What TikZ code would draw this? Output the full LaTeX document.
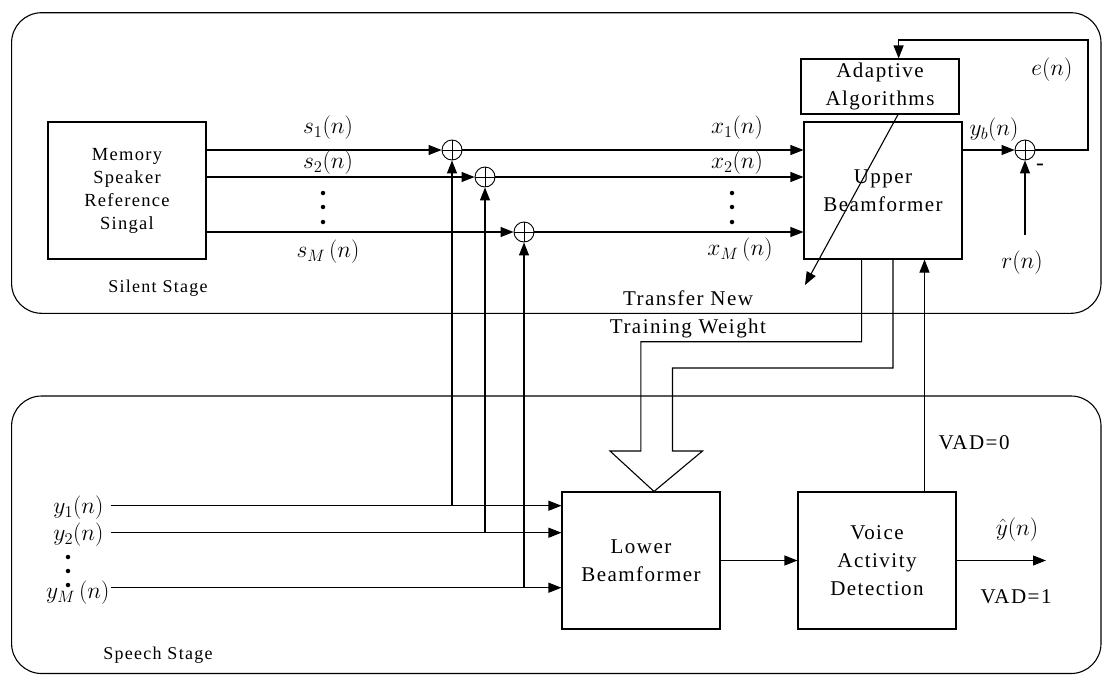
\documentclass[tikz,border=0pt]{standalone}
\usepackage{fix-cm}
\usepackage{amsmath}
\usepackage{fontspec}
\setmainfont{Liberation Serif}[LetterSpace=7]
\usetikzlibrary{arrows.meta,calc,positioning}
\tikzset{
  blk/.style={draw,line width=1.1pt,minimum width=158pt,align=center,inner sep=0pt,font=\fontsize{21}{28}\selectfont},
  sumnode/.style={draw,circle,minimum size=20pt,inner sep=0pt,line width=0.9pt,
    path picture={\draw[line width=0.9pt] (path picture bounding box.north)--(path picture bounding box.south)
      (path picture bounding box.west)--(path picture bounding box.east);}},
  sig/.style={inner sep=0pt,font=\fontsize{23.5}{27}\selectfont},
  txt/.style={inner sep=0pt,align=center,font=\fontsize{21}{28}\selectfont},
  stage/.style={draw,line width=1.1pt,rounded corners=30pt},
  vdot/.style={circle,fill,inner sep=0pt,minimum size=4.5pt}
}
\begin{document}
\begin{tikzpicture}[x=1pt,y=-1pt,>={Triangle[length=13pt,width=10pt]},line width=1.1pt]
\useasboundingbox (0,0) rectangle (1102,675);
% stages
\draw[stage] (11.6,12.7) rectangle (1101,313.3);
\draw[stage] (11.6,396) rectangle (1101,673.5);
\node[txt,font=\fontsize{18}{22}\selectfont] (silent) at (158,288) {Silent Stage};
\node[txt,font=\fontsize{18}{22}\selectfont] (speech) at (158,655) {Speech Stage};
% blocks
\node[blk,minimum height=137pt,font=\fontsize{18.5}{23}\selectfont] (memory) at (127,190.5) {Memory\\Speaker\\Reference\\Singal};
\node[blk,minimum height=137pt] (upper) at (883,190.5) {Upper\\Beamformer};
\node[blk,minimum height=55pt] (adapt) at (880,86.5) {Adaptive\\Algorithms};
\node[blk,minimum height=137pt] (lower) at (641,560.5) {Lower\\Beamformer};
\node[blk,minimum height=137pt] (vad) at (877,560.5) {Voice\\Activity\\Detection};
% adders
\node[sumnode] (sum1) at (452,150) {};
\node[sumnode] (sum2) at (485,177) {};
\node[sumnode] (sum3) at (524,232) {};
\node[sumnode] (sumE) at (1025,150) {};
% free ends
\coordinate (yin1) at (110.5,505.7);
\coordinate (yin2) at (110.5,532.7);
\coordinate (yin3) at (110.5,587.7);
\coordinate (eright) at (1088,40);
\coordinate (rin) at (1025,235);
\coordinate (wtip) at (805,285);
\coordinate (yout) at (1046,560.5);
% reference and microphone signals
\foreach \s in {1,2,3}{
  \draw[->] (memory.east |- sum\s) -- (sum\s);
  \draw[->] (sum\s) -- (upper.west |- sum\s);
  \draw[->] (yin\s) -- (lower.west |- yin\s);
  \draw[->] (sum\s |- yin\s) -- (sum\s);}
% error loop
\draw[->] (upper.east |- sumE) -- (sumE);
\draw[->] (sumE.east) -| (eright) -| ([xshift=18.6pt]adapt.north);
\draw[->] (rin) -- (sumE);
\draw[->] ([xshift=18pt]adapt.south) -- (wtip);
% weight transfer
\draw[line join=miter] ([xshift=-21.4pt]upper.south) -- (861.6,341.7) -- (640.8,341.7) -- (640.8,451) -- (610,451)
  -- ([xshift=13pt]lower.north) -- (702.5,451) -- (672.5,451) -- (672.5,368) -- (893,368) -- ([xshift=10pt]upper.south);
% speech stage outputs
\draw[->] (lower) -- (vad);
\draw[->] (vad) -- (yout);
\draw[->] ([xshift=47.5pt]vad.north) -- ([xshift=47.5pt]vad.north |- upper.south);
% labels
\node[sig] (ls1) at (328,128) {$s_1(n)$};
\node[sig] (ls2) at (328,163) {$s_2(n)$};
\node[sig] (lsM) at (328,252) {$s_M\,(n)$};
\node[sig] (lx1) at (737,128) {$x_1(n)$};
\node[sig] (lx2) at (737,163) {$x_2(n)$};
\node[sig] (lxM) at (740,250) {$x_M\,(n)$};
\node[sig,anchor=east] (ly1) at (104,508) {$y_1(n)$};
\node[sig,anchor=east] (ly2) at (104,535) {$y_2(n)$};
\node[sig,anchor=east] (lyM) at (110,593) {$y_M\,(n)$};
\node[sig] (lyb) at (994,130) {$y_b(n)$};
\node[sig] (le) at (1052,70) {$e(n)$};
\node[sig] (lr) at (1022,263) {$r(n)$};
\node[sig] (lminus) at (1040,167) {-};
\node[sig] (lyhat) at (1017,530) {$\hat{y}(n)$};
\node[txt] (ltransfer) at (688,314) {Transfer New\\Training Weight};
\node[txt] (lvad0) at (974,443) {VAD=0};
\node[txt] (lvad1) at (1016,597) {VAD=1};
% dots
\foreach \y in {193,207,222}{
  \node[vdot] at (323,\y) {};
  \node[vdot] at (732,\y) {};}
\foreach \y in {557,571,585}
  \node[vdot] at (68,\y) {};
\end{tikzpicture}
\end{document}
